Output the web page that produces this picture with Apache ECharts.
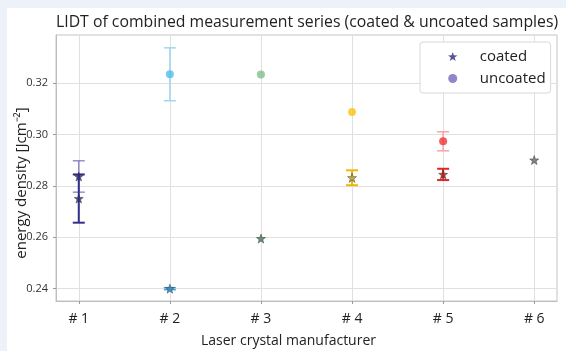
<!DOCTYPE html>
<html><head><meta charset="utf-8">
<script src="https://cdn.jsdelivr.net/npm/echarts@6/dist/echarts.min.js"></script>
<style>
html,body{margin:0;padding:0;background:#edf1f9;}
#bg{position:absolute;left:7px;top:8px;width:559px;height:343px;background:#fff;}
#c{position:absolute;left:0;top:0;width:566px;height:351px;}
</style></head>
<body><div id="bg"></div><div id="c"></div>
<script>
// ---- data ----
const xLabels = ['# 1', '# 2', '# 3', '# 4', '# 5', '# 6'];
const xValues = [1, 2, 3, 4, 5, 6];
const yTicks = [0.24, 0.26, 0.28, 0.30, 0.32];

const coatedX = [1, 1, 2, 3, 4, 5, 6];
const coatedY = [0.2837, 0.2751, 0.2400, 0.2595, 0.2832, 0.2845, 0.2901];
const coatedErr = [0.0061, 0.0094, 0.0004, 0, 0.0029, 0.0022, 0];

const uncoatedX = [2, 3, 4, 5];
const uncoatedY = [0.3235, 0.3234, 0.3088, 0.2974];
const uncoatedErr = [0.0103, 0, 0, 0.0037];

// ---- styles ----
const coatedColor = ['#2d2a80', '#2d2a80', '#2b8cc4', '#3d7a4f', '#b3a532', '#b01c1c', '#666666'];
const coatedErrColor = ['#7b72c2', '#352f8c', '#4aa8d8', '#3d7a4f', '#f5b400', '#e02525', '#666666'];
const coatedErrWidth = [1.2, 2, 1.5, 1, 2, 2, 1];
const uncoatedColor = ['#4dbfef', '#7fbf8f', '#ffc20e', '#ef3535'];
const uncoatedErrColor = ['#9fd8ee', '#7fbf8f', '#ffc20e', '#f5a5a5'];
const uncoatedErrWidth = [1.5, 1, 1, 1.5];

const STAR = 'path://M0,-10 L2.35,-3.24 L9.51,-3.09 L3.80,1.24 L5.88,8.09 L0,4 L-5.88,8.09 L-3.80,1.24 L-9.51,-3.09 L-2.35,-3.24 Z';
const FONT = 'Open Sans';

function errSeries(xs, ys, es, colors, widths) {
  return {
    type: 'custom', z: 2, silent: true,
    data: xs.map((x, i) => [x, ys[i], es[i], i]),
    renderItem: function (params, api) {
      const x = api.value(0), y = api.value(1), e = api.value(2), i = api.value(3);
      if (!(e > 0)) return null;
      const top = api.coord([x, y + e]);
      const bot = api.coord([x, y - e]);
      const hw = 6;
      const st = { stroke: colors[i], lineWidth: widths[i] };
      return {
        type: 'group',
        children: [
          { type: 'line', shape: { x1: top[0], y1: top[1], x2: bot[0], y2: bot[1] }, style: st },
          { type: 'line', shape: { x1: top[0] - hw, y1: top[1], x2: top[0] + hw, y2: top[1] }, style: st },
          { type: 'line', shape: { x1: bot[0] - hw, y1: bot[1], x2: bot[0] + hw, y2: bot[1] }, style: st }
        ]
      };
    }
  };
}

const chart = echarts.init(document.getElementById('c'), null, { renderer: 'canvas' });
chart.setOption({
  backgroundColor: 'transparent',
  animation: false,
  textStyle: { fontFamily: FONT },
  title: {
    text: 'LIDT of combined measurement series (coated & uncoated samples)',
    left: 51, top: 9,
    textStyle: { fontFamily: FONT, fontSize: 15.8, fontWeight: 'normal', color: '#222' }
  },
  grid: { left: 56, right: 9, top: 35, bottom: 50, outerBoundsMode: 'none', containLabel: false,
    show: true, borderColor: '#c4c4c4', borderWidth: 1, backgroundColor: '#fff' },
  legend: {
    orient: 'vertical', left: 420, top: 42,
    padding: [7, 5, 7, 28],
    borderColor: '#d8d8d8', borderWidth: 1, borderRadius: 3, backgroundColor: '#fff',
    itemWidth: 44, itemHeight: 9, itemGap: 7,
    textStyle: { fontFamily: FONT, fontSize: 15, color: '#222', lineHeight: 14 },
    data: [
      { name: 'coated', icon: STAR, itemStyle: { color: '#2d2a80' } },
      { name: 'uncoated', icon: 'circle', itemStyle: { color: '#7468bd' } }
    ]
  },
  xAxis: {
    type: 'value', min: 0.75, max: 6.25,
    name: 'Laser crystal manufacturer', nameLocation: 'middle', nameGap: 33, nameMoveOverlap: false,
    nameTextStyle: { fontFamily: FONT, fontSize: 14, color: '#222', padding: [0, 36, 0, 0] },
    axisLine: { show: true, onZero: false, lineStyle: { color: '#bdbdbd' } },
    axisTick: { show: true, length: 3, customValues: xValues, lineStyle: { color: '#999' } },
    axisLabel: {
      customValues: xValues, margin: 11, fontFamily: FONT, fontSize: 14, color: '#222',
      formatter: v => xLabels[xValues.indexOf(v)]
    },
    splitLine: { show: true, lineStyle: { color: '#e0e0e0' } }
  },
  yAxis: {
    type: 'value', min: 0.2352, max: 0.3388,
    name: 'energy density [Jcm⁻²]', nameLocation: 'middle', nameGap: 27, nameMoveOverlap: false,
    nameTextStyle: { fontFamily: FONT, fontSize: 15, color: '#222', padding: [0, 30, 0, 0] },
    axisLine: { show: true, onZero: false, lineStyle: { color: '#bdbdbd' } },
    axisTick: { show: true, length: 3, customValues: yTicks, lineStyle: { color: '#999' } },
    axisLabel: {
      customValues: yTicks, margin: 8, fontFamily: FONT, fontSize: 11, color: '#333',
      formatter: v => v.toFixed(2)
    },
    splitLine: { show: true, lineStyle: { color: '#e0e0e0' } }
  },
  series: [
    errSeries(uncoatedX, uncoatedY, uncoatedErr, uncoatedErrColor, uncoatedErrWidth),
    errSeries(coatedX, coatedY, coatedErr, coatedErrColor, coatedErrWidth),
    {
      name: 'uncoated', type: 'scatter', z: 3, symbol: 'circle', symbolSize: 8,
      data: uncoatedX.map((x, i) => ({ value: [x, uncoatedY[i]], itemStyle: { color: uncoatedColor[i] } }))
    },
    {
      name: 'coated', type: 'scatter', z: 4, symbol: STAR, symbolSize: 9,
      data: coatedX.map((x, i) => ({ value: [x, coatedY[i]], itemStyle: { color: coatedColor[i], borderColor: '#333', borderWidth: 0.6 } }))
    }
  ]
});
</script></body></html>
